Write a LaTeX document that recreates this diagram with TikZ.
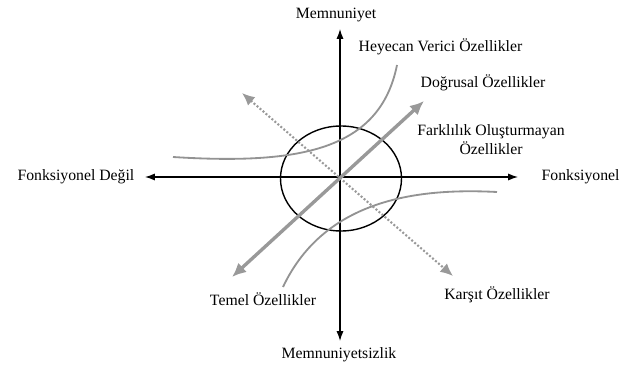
\documentclass[tikz,border=0pt]{standalone}
\usepackage{fontspec}
\setmainfont{Liberation Serif}
\usetikzlibrary{arrows.meta,calc}

\begin{document}
\begin{tikzpicture}[
    x=0.025cm, y=-0.025cm,
    axis/.style={draw=black, line width=0.8pt, -{Latex[length=7pt,width=5pt]}},
    label/.style={font=\fontsize{11.2}{13.5}\selectfont, inner sep=1pt},
    curve/.style={draw=gray!85, line width=1.3pt},
    linear/.style={draw=gray!80, line width=2.4pt, {Latex[length=10pt,width=9pt]}-{Latex[length=10pt,width=9pt]}},
    reverse/.style={draw=gray!80, line width=1.5pt, dash pattern=on 1.4pt off 1.4pt, {Latex[length=9pt,width=8pt]}-{Latex[length=9pt,width=8pt]}}
  ]
  \useasboundingbox (0,0) rectangle (630,367);

  % Axes
  \coordinate (o) at (340,177);
  \coordinate (top) at (340,29);
  \coordinate (bottom) at (340,341);
  \coordinate (left) at (145,177);
  \coordinate (right) at (518,177);
  \draw[axis] (o) -- (top);
  \draw[axis] (o) -- (bottom);
  \draw[axis] (o) -- (left);
  \draw[axis] (o) -- (right);

  % Indifferent zone
  \draw[line width=1pt] (341,178.5) ellipse [x radius=60.5, y radius=52.5];

  % Curves
  \coordinate (h1) at (173,157);
  \coordinate (h2) at (397,65);
  \draw[curve] (h1) .. controls (300,165) and (380,150) .. (h2);
  \coordinate (t1) at (497,192);
  \coordinate (t2) at (283,287);
  \draw[curve] (t1) .. controls (420,188) and (325,198) .. (t2);
  \coordinate (l1) at (232,277);
  \coordinate (l2) at (424,101);
  \draw[linear] (l1) -- (l2);
  \coordinate (r1) at (242,93);
  \coordinate (r2) at (453,276);
  \draw[reverse] (r1) -- (r2);

  % Labels
  \node[label] (memnun) at (336,15) {Memnuniyet};
  \node[label] (memnunsuz) at (339,355) {Memnuniyetsizlik};
  \node[label, anchor=west] (fonk) at (540,177) {Fonksiyonel};
  \node[label, anchor=east] (fonkdegil) at (136,177) {Fonksiyonel Değil};
  \node[label, anchor=west] (heyecan) at (357,47) {Heyecan Verici Özellikler};
  \node[label, anchor=west] (dogrusal) at (419,83) {Doğrusal Özellikler};
  \node[label, align=center] (farklilik) at (491,140) {Farklılık Oluşturmayan\\Özellikler};
  \node[label] (temel) at (263,299) {Temel Özellikler};
  \node[label] (karsit) at (497,295) {Karşıt Özellikler};

  \end{tikzpicture}
\end{document}
